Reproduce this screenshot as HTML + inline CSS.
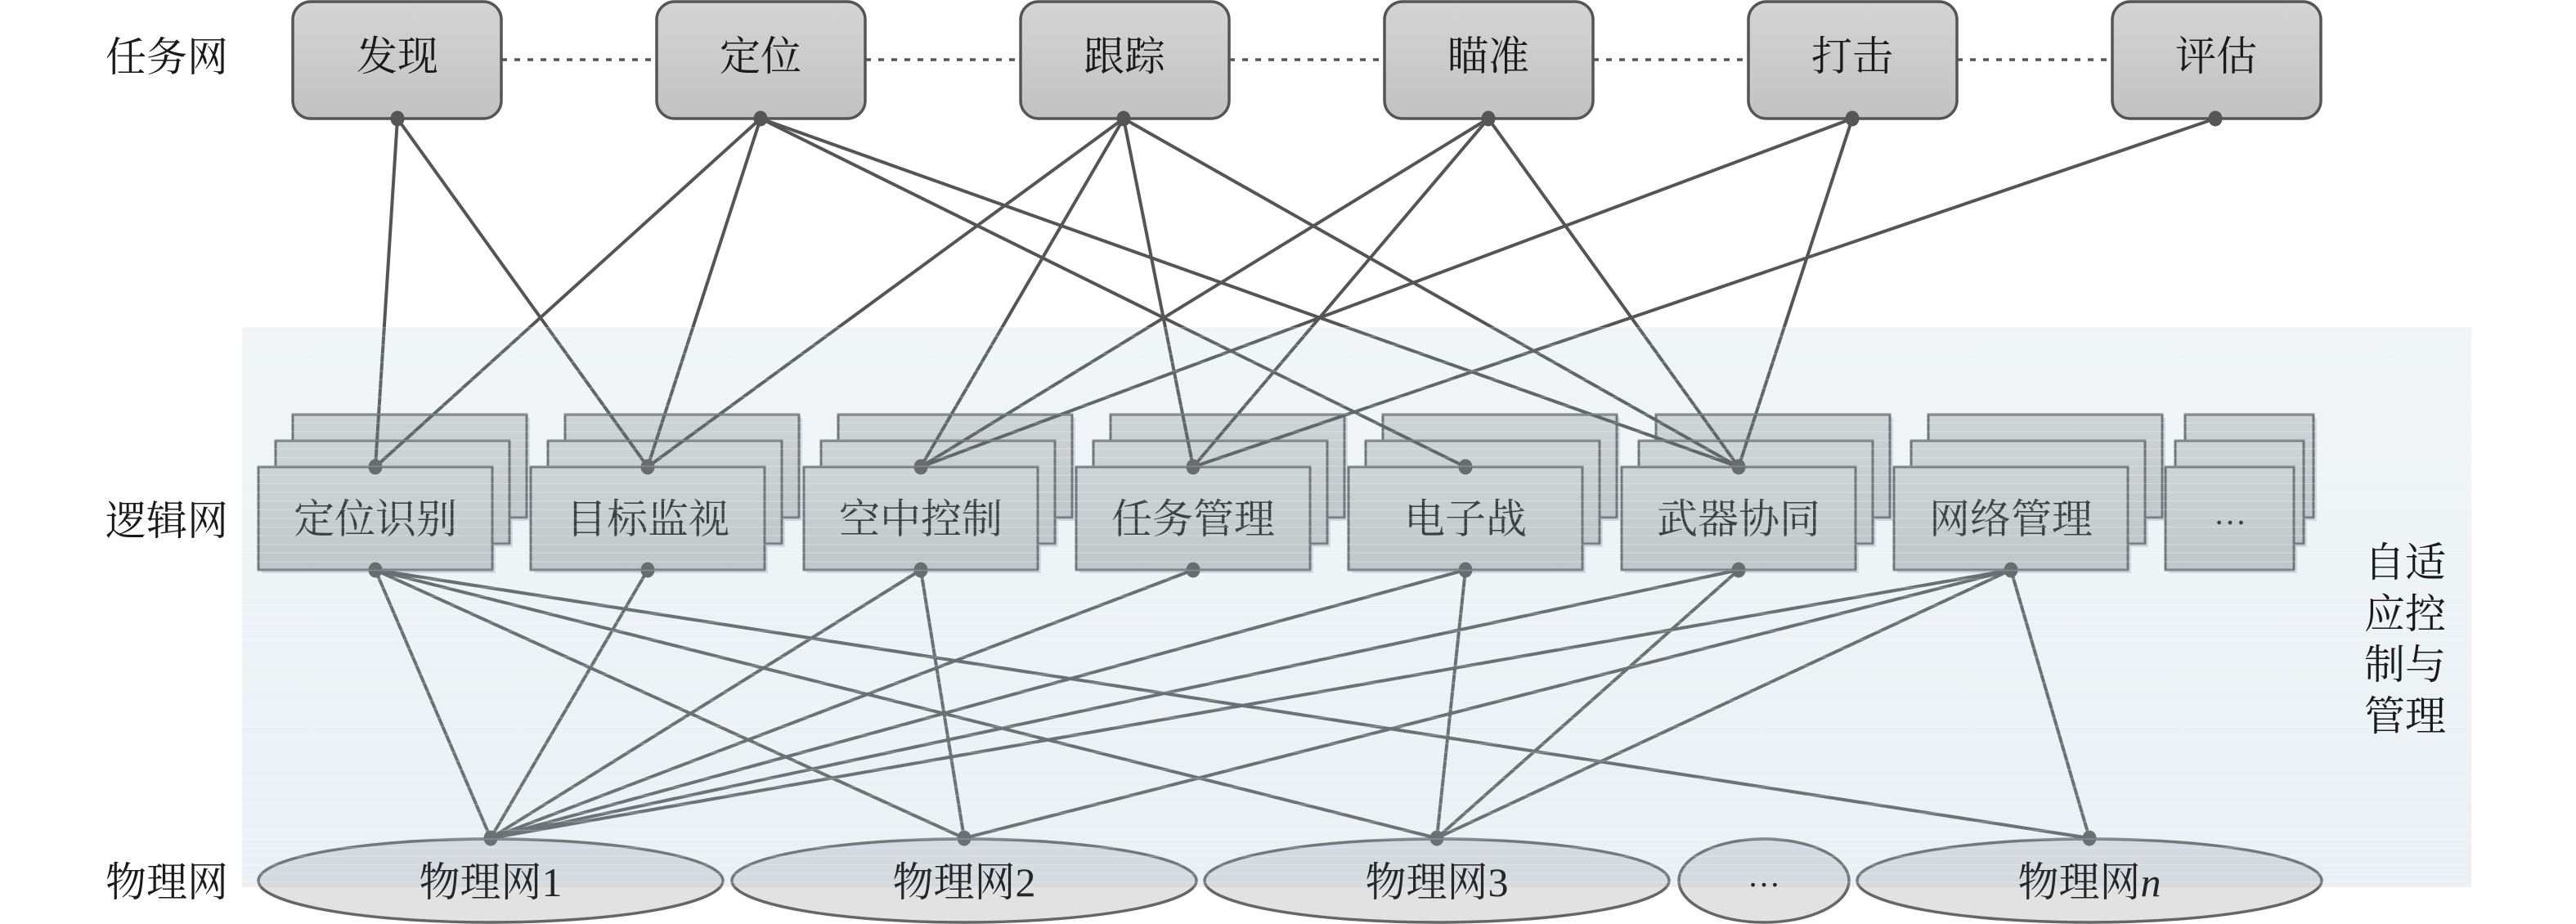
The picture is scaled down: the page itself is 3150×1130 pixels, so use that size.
<!DOCTYPE html>
<html>
<head>
<meta charset="utf-8">
<style>
  html, body { margin: 0; padding: 0; background: #ffffff; }
  svg { display: block; }
  text { font-family: "Liberation Serif", "Noto Serif CJK SC", serif; }
</style>
</head>
<body>
<svg width="3150" height="1130" viewBox="0 0 3150 1130" xmlns="http://www.w3.org/2000/svg">
  <defs>
    <linearGradient id="gTop" x1="0" y1="0" x2="0" y2="1">
      <stop offset="0" stop-color="#d4d4d4"/>
      <stop offset="1" stop-color="#c2c2c2"/>
    </linearGradient>
    <linearGradient id="gLog" x1="0" y1="0" x2="0" y2="1">
      <stop offset="0" stop-color="#d8d8d8"/>
      <stop offset="1" stop-color="#c8c8c8"/>
    </linearGradient>
    <linearGradient id="gEll" x1="0" y1="0" x2="0" y2="1">
      <stop offset="0" stop-color="#e2e3e5"/>
      <stop offset="1" stop-color="#e2e2e2"/>
    </linearGradient>
    <linearGradient id="gPanel" x1="0" y1="0" x2="0" y2="1">
      <stop offset="0" stop-color="rgb(161,188,205)" stop-opacity="0.15"/>
      <stop offset="1" stop-color="rgb(161,188,205)" stop-opacity="0.22"/>
    </linearGradient>
    <pattern id="stripes" x="0" y="400" width="20" height="10.6" patternUnits="userSpaceOnUse">
      <rect x="0" y="0" width="20" height="1.4" fill="#ffffff" fill-opacity="0.22"/>
    </pattern>
  </defs>

  <!-- Task net dashed connectors -->
  <g stroke="#555" stroke-width="3.5" stroke-dasharray="7 9" fill="none">
    <line x1="613" y1="73" x2="803" y2="73"/>
    <line x1="1058" y1="73" x2="1248" y2="73"/>
    <line x1="1503" y1="73" x2="1693" y2="73"/>
    <line x1="1948" y1="73" x2="2138" y2="73"/>
    <line x1="2393" y1="73" x2="2583" y2="73"/>
  </g>

  <!-- Task boxes -->
  <g fill="url(#gTop)" stroke="#555" stroke-width="3.5">
    <rect x="358" y="2" width="255" height="143" rx="22"/>
    <rect x="803" y="2" width="255" height="143" rx="22"/>
    <rect x="1248" y="2" width="255" height="143" rx="22"/>
    <rect x="1693" y="2" width="255" height="143" rx="22"/>
    <rect x="2138" y="2" width="255" height="143" rx="22"/>
    <rect x="2583" y="2" width="255" height="143" rx="22"/>
  </g>

  <!-- Logic stacked boxes -->
  <g stroke="#686868" stroke-width="3">
    <g fill="#c4c8cc" stroke="none" opacity="0.55">
      <rect x="362" y="511" width="286" height="126"/><rect x="341" y="543" width="286" height="126"/><rect x="320" y="575" width="286" height="126"/>
      <rect x="695" y="511" width="286" height="126"/><rect x="674" y="543" width="286" height="126"/><rect x="653" y="575" width="286" height="126"/>
      <rect x="1029" y="511" width="286" height="126"/><rect x="1008" y="543" width="286" height="126"/><rect x="987" y="575" width="286" height="126"/>
      <rect x="1362" y="511" width="286" height="126"/><rect x="1341" y="543" width="286" height="126"/><rect x="1320" y="575" width="286" height="126"/>
      <rect x="1695" y="511" width="286" height="126"/><rect x="1674" y="543" width="286" height="126"/><rect x="1653" y="575" width="286" height="126"/>
      <rect x="2029" y="511" width="286" height="126"/><rect x="2008" y="543" width="286" height="126"/><rect x="1987" y="575" width="286" height="126"/>
      <rect x="2362" y="511" width="286" height="126"/><rect x="2341" y="543" width="286" height="126"/><rect x="2320" y="575" width="286" height="126"/>
      <rect x="2676" y="511" width="157" height="126"/><rect x="2664" y="543" width="157" height="126"/><rect x="2652" y="575" width="157" height="126"/>
    </g>
    <g fill="url(#gLog)">
      <rect x="358" y="507" width="286" height="126"/><rect x="337" y="539" width="286" height="126"/><rect x="316" y="571" width="286" height="126"/>
      <rect x="691" y="507" width="286" height="126"/><rect x="670" y="539" width="286" height="126"/><rect x="649" y="571" width="286" height="126"/>
      <rect x="1025" y="507" width="286" height="126"/><rect x="1004" y="539" width="286" height="126"/><rect x="983" y="571" width="286" height="126"/>
      <rect x="1358" y="507" width="286" height="126"/><rect x="1337" y="539" width="286" height="126"/><rect x="1316" y="571" width="286" height="126"/>
      <rect x="1691" y="507" width="286" height="126"/><rect x="1670" y="539" width="286" height="126"/><rect x="1649" y="571" width="286" height="126"/>
      <rect x="2025" y="507" width="286" height="126"/><rect x="2004" y="539" width="286" height="126"/><rect x="1983" y="571" width="286" height="126"/>
      <rect x="2358" y="507" width="286" height="126"/><rect x="2337" y="539" width="286" height="126"/><rect x="2316" y="571" width="286" height="126"/>
      <rect x="2672" y="507" width="157" height="126"/><rect x="2660" y="539" width="157" height="126"/><rect x="2648" y="571" width="157" height="126"/>
    </g>
  </g>

  <!-- Physical ellipses -->
  <g fill="url(#gEll)" stroke="#666" stroke-width="3.5">
    <ellipse cx="600" cy="1077" rx="284" ry="51"/>
    <ellipse cx="1179" cy="1077" rx="284" ry="51"/>
    <ellipse cx="1757" cy="1077" rx="284" ry="51"/>
    <ellipse cx="2157" cy="1077" rx="104" ry="51"/>
    <ellipse cx="2555" cy="1077" rx="284" ry="51"/>
  </g>

  <!-- Task -> Logic connectors -->
  <g stroke="#555" stroke-width="4" fill="none" stroke-linecap="round">
    <line x1="486" y1="145" x2="459" y2="571"/>
    <line x1="486" y1="145" x2="792" y2="571"/>
    <line x1="930" y1="145" x2="459" y2="571"/>
    <line x1="930" y1="145" x2="792" y2="571"/>
    <line x1="930" y1="145" x2="1792" y2="571"/>
    <line x1="930" y1="145" x2="2126" y2="571"/>
    <line x1="1374" y1="145" x2="792" y2="571"/>
    <line x1="1374" y1="145" x2="1126" y2="571"/>
    <line x1="1374" y1="145" x2="1459" y2="571"/>
    <line x1="1374" y1="145" x2="2126" y2="571"/>
    <line x1="1820" y1="145" x2="1126" y2="571"/>
    <line x1="1820" y1="145" x2="1459" y2="571"/>
    <line x1="1820" y1="145" x2="2126" y2="571"/>
    <line x1="2265" y1="145" x2="1126" y2="571"/>
    <line x1="2265" y1="145" x2="2126" y2="571"/>
    <line x1="2709" y1="145" x2="1459" y2="571"/>
  </g>

  <!-- Logic -> Physical connectors -->
  <g stroke="#5e5e5e" stroke-width="4" fill="none" stroke-linecap="round">
    <line x1="459" y1="697" x2="600" y2="1025"/>
    <line x1="459" y1="697" x2="1179" y2="1025"/>
    <line x1="459" y1="697" x2="1757" y2="1025"/>
    <line x1="459" y1="697" x2="2555" y2="1025"/>
    <line x1="792" y1="697" x2="600" y2="1025"/>
    <line x1="1126" y1="697" x2="600" y2="1025"/>
    <line x1="1126" y1="697" x2="1179" y2="1025"/>
    <line x1="1459" y1="697" x2="600" y2="1025"/>
    <line x1="1792" y1="697" x2="600" y2="1025"/>
    <line x1="1792" y1="697" x2="1757" y2="1025"/>
    <line x1="2126" y1="697" x2="600" y2="1025"/>
    <line x1="2126" y1="697" x2="1757" y2="1025"/>
    <line x1="2459" y1="697" x2="600" y2="1025"/>
    <line x1="2459" y1="697" x2="1179" y2="1025"/>
    <line x1="2459" y1="697" x2="1757" y2="1025"/>
    <line x1="2459" y1="697" x2="2555" y2="1025"/>
  </g>

  <!-- Dots -->
  <g fill="#555">
    <ellipse cx="486" cy="145" rx="8.5" ry="9.5"/>
    <ellipse cx="930" cy="145" rx="8.5" ry="9.5"/>
    <ellipse cx="1374" cy="145" rx="8.5" ry="9.5"/>
    <ellipse cx="1820" cy="145" rx="8.5" ry="9.5"/>
    <ellipse cx="2265" cy="145" rx="8.5" ry="9.5"/>
    <ellipse cx="2709" cy="145" rx="8.5" ry="9.5"/>
  </g>
  <g fill="#5c5c5c">
    <ellipse cx="459" cy="571" rx="8.5" ry="9.5"/>
    <ellipse cx="792" cy="571" rx="8.5" ry="9.5"/>
    <ellipse cx="1126" cy="571" rx="8.5" ry="9.5"/>
    <ellipse cx="1459" cy="571" rx="8.5" ry="9.5"/>
    <ellipse cx="1792" cy="571" rx="8.5" ry="9.5"/>
    <ellipse cx="2126" cy="571" rx="8.5" ry="9.5"/>
    <ellipse cx="459" cy="697" rx="8.5" ry="9.5"/>
    <ellipse cx="792" cy="697" rx="8.5" ry="9.5"/>
    <ellipse cx="1126" cy="697" rx="8.5" ry="9.5"/>
    <ellipse cx="1459" cy="697" rx="8.5" ry="9.5"/>
    <ellipse cx="1792" cy="697" rx="8.5" ry="9.5"/>
    <ellipse cx="2126" cy="697" rx="8.5" ry="9.5"/>
    <ellipse cx="2459" cy="697" rx="8.5" ry="9.5"/>
    <ellipse cx="600" cy="1025" rx="8.5" ry="9.5"/>
    <ellipse cx="1179" cy="1025" rx="8.5" ry="9.5"/>
    <ellipse cx="1757" cy="1025" rx="8.5" ry="9.5"/>
    <ellipse cx="2555" cy="1025" rx="8.5" ry="9.5"/>
  </g>

  <!-- Task box labels -->
  <g font-size="50" fill="#1a1a1a" text-anchor="middle">
    <text x="486" y="86">发现</text>
    <text x="930" y="86">定位</text>
    <text x="1375" y="86">跟踪</text>
    <text x="1820" y="86">瞄准</text>
    <text x="2265" y="86">打击</text>
    <text x="2710" y="86">评估</text>
  </g>

  <!-- Logic box labels -->
  <g font-size="50" fill="#262626" text-anchor="middle">
    <text x="459" y="652">定位识别</text>
    <text x="792" y="652">目标监视</text>
    <text x="1126" y="652">空中控制</text>
    <text x="1459" y="652">任务管理</text>
    <text x="1792" y="652">电子战</text>
    <text x="2126" y="652">武器协同</text>
    <text x="2459" y="652">网络管理</text>
    <text x="2727" y="641" font-size="40" font-family="'Noto Serif CJK SC', serif">…</text>
  </g>

  <!-- Translucent panel overlay -->
  <rect x="296" y="400" width="2726" height="685" fill="url(#gPanel)"/>
  <rect x="296" y="400" width="2726" height="685" fill="url(#stripes)"/>

  <!-- Physical labels -->
  <g font-size="50" fill="#262626" text-anchor="middle">
    <text x="600" y="1096">物理网1</text>
    <text x="1179" y="1096">物理网2</text>
    <text x="1757" y="1096">物理网3</text>
    <text x="2157" y="1084" font-size="40" font-family="'Noto Serif CJK SC', serif">…</text>
    <text x="2555" y="1096">物理网<tspan font-style="italic">n</tspan></text>
  </g>

  <!-- Row labels -->
  <g font-size="50" fill="#1a1a1a" text-anchor="middle">
    <text x="204" y="87">任务网</text>
    <text x="204" y="654">逻辑网</text>
    <text x="204" y="1096">物理网</text>
  </g>

  <!-- Side label -->
  <g font-size="50" fill="#1a1a1a" text-anchor="middle">
    <text x="2941" y="705">自适</text>
    <text x="2941" y="768">应控</text>
    <text x="2941" y="830">制与</text>
    <text x="2941" y="893">管理</text>
  </g>
</svg>
</body>
</html>
